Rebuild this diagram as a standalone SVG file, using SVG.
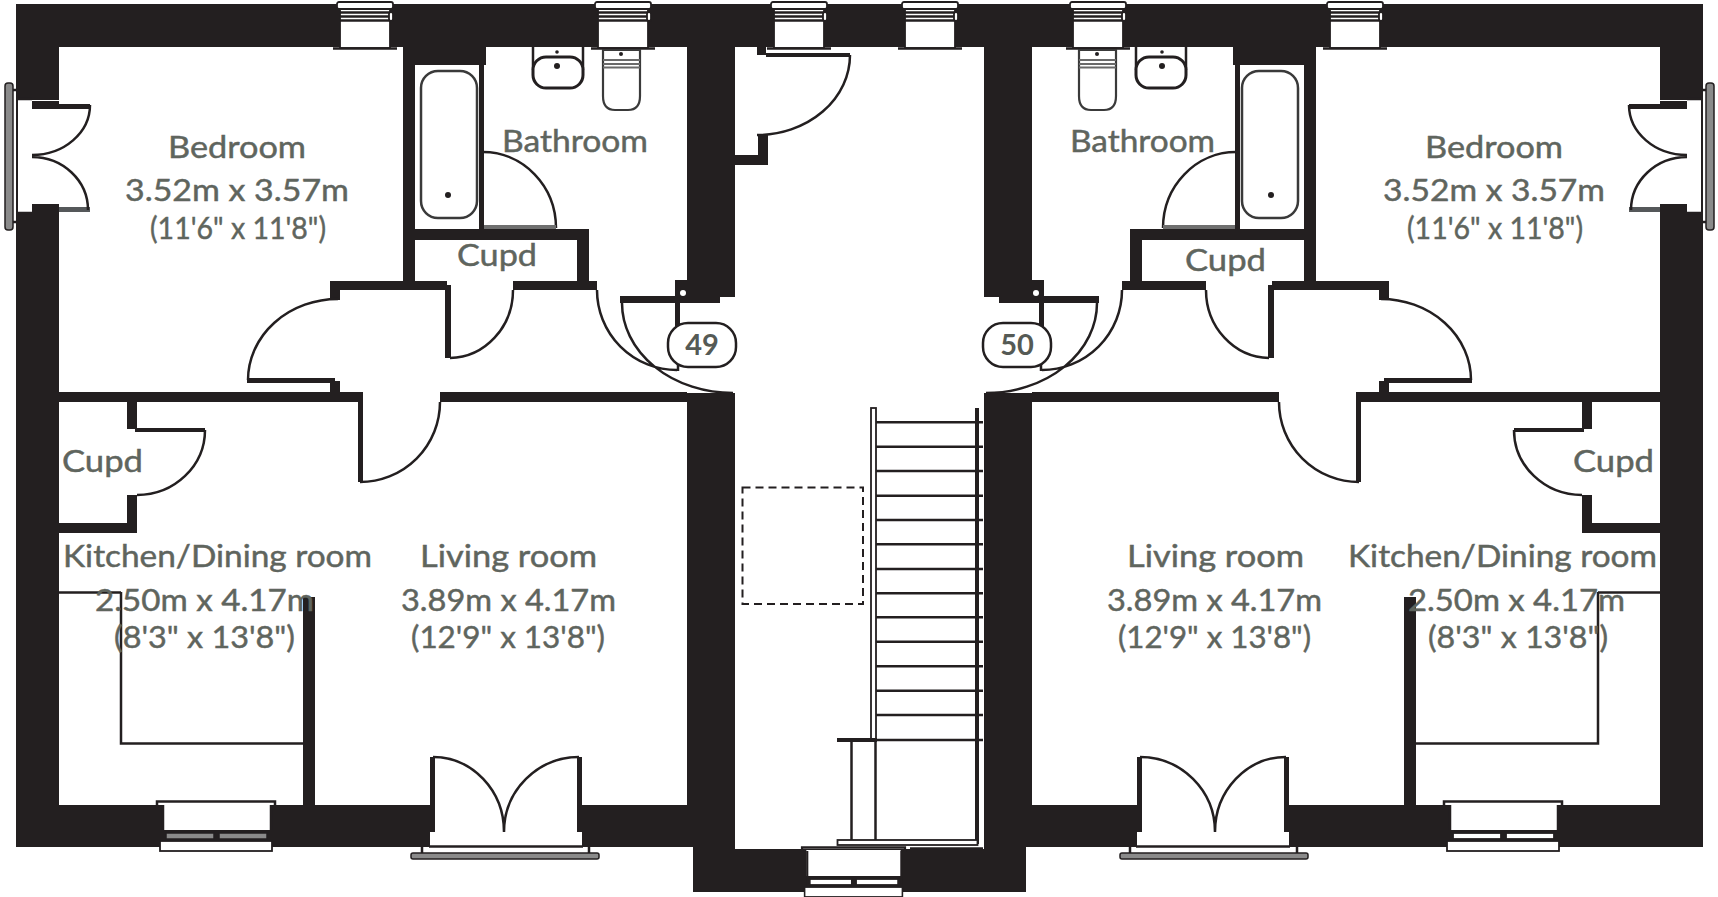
<svg xmlns="http://www.w3.org/2000/svg" xmlns:xlink="http://www.w3.org/1999/xlink" width="1718" height="897" viewBox="0 0 1718 897">
<style>
.k{fill:#231f20}
.w{fill:#fff}
.s{fill:#fff;stroke:#231f20;stroke-width:1.8}
.l{fill:none;stroke:#231f20;stroke-width:2.500}
.g{fill:#8a8a8a;stroke:#231f20;stroke-width:1.5}
.t{font-family:"Lato","Liberation Sans",sans-serif;font-size:30px;fill:#5f655e;stroke:#5f655e;stroke-width:.45}
.n{font-family:"Lato","Liberation Sans",sans-serif;font-size:29px;font-weight:700;fill:#555a55}
</style>
<defs>
<g id="winT">
<rect class="s" x="3" y="8" width="50" height="40"/>
<path class="l" stroke-width="2" d="M3 12.500H53M3 16.500H53M3 20.500H53"/>
<rect class="s" x="0" y="2" width="56" height="7" rx="2"/>
<rect class="s" x="52" y="12" width="4" height="9" rx="2"/>
<path class="l" d="M-4 48.500H60"/>
</g>
<g id="winB">
<rect class="w" x="5" y="4" width="108" height="26"/>
<path class="l" d="M0 6V1.500H118V6M6 5V30M114 5V30"/>
<rect class="k" x="5" y="30" width="110" height="11"/>
<rect class="s" x="9" y="33" width="48" height="6"/>
<rect class="s" x="62" y="33" width="48" height="6"/>
<rect class="s" x="3" y="41" width="112" height="10"/>
</g>
<g id="winG">
<rect class="w" x="5" y="4" width="108" height="26"/>
<path class="l" d="M0 6V1.500H118V6M6 5V30M114 5V30"/>
<rect class="k" x="5" y="30" width="110" height="11"/>
<rect class="g" x="9" y="33" width="48" height="6"/>
<rect class="g" x="62" y="33" width="48" height="6"/>
<rect class="s" x="3" y="41" width="112" height="10"/>
</g>
<g id="half">
<!-- outer walls -->
<rect class="k" x="16" y="4" width="844" height="43"/>
<rect class="k" x="16" y="4" width="43" height="843"/>
<rect class="k" x="16" y="805" width="719" height="42"/>
<rect class="k" x="693" y="805" width="42" height="87"/>
<rect class="k" x="693" y="849" width="167" height="43"/>
<!-- hall walls -->
<rect class="k" x="687" y="47" width="48" height="250"/>
<rect class="k" x="687" y="393" width="48" height="412"/>
<!-- bathroom block -->
<rect class="k" x="403" y="47" width="83" height="18"/>
<rect class="k" x="403" y="47" width="12" height="243"/>
<rect class="k" x="479" y="65" width="5" height="165"/>
<rect class="k" x="403" y="229" width="186" height="11"/>
<rect class="k" x="577" y="229" width="12" height="61"/>
<rect class="k" x="330" y="281" width="117" height="9"/>
<rect class="k" x="513" y="281" width="84" height="9"/>
<rect class="k" x="330" y="281" width="10" height="19"/>
<rect class="k" x="445" y="285" width="6" height="73"/>
<!-- mid partition -->
<rect class="k" x="59" y="392" width="300" height="10"/>
<rect class="k" x="440" y="392" width="247" height="10"/>
<rect class="k" x="330" y="381" width="10" height="12"/>
<rect class="k" x="358" y="392" width="5" height="90"/>
<rect class="k" x="247" y="378" width="88" height="5"/>
<!-- kitchen cupboard -->
<rect class="k" x="127" y="402" width="10" height="27"/>
<rect class="k" x="135" y="428" width="70" height="4"/>
<rect class="k" x="127" y="495" width="10" height="38"/>
<rect class="k" x="59" y="523" width="78" height="10"/>
<path class="l" d="M205 430A68 65 0 0 1 137 495"/>
<!-- kitchen partition and counter -->
<rect class="k" x="303" y="597" width="12" height="208"/>
<path class="l" d="M59 592.500H121M121 592V743.500H303"/>
<!-- door arcs -->
<path class="l" d="M338 299A90 81 0 0 0 248 380"/>
<path class="l" d="M450 358A64 68 0 0 0 513 290"/>
<path class="l" d="M360 482A80 80 0 0 0 440 402"/>
<!-- bedroom french doors -->
<rect class="w" x="18" y="100" width="41" height="112"/>
<rect class="k" x="32" y="101" width="27" height="8"/>
<rect class="k" x="32" y="204" width="27" height="8"/>
<rect class="k" x="59" y="104" width="31" height="5"/>
<rect x="59" y="207" width="31" height="5" fill="#55585a"/>
<path class="l" d="M90 105A58 50 0 0 1 32 155M32 157A56 53 0 0 1 88 210"/>
<path class="l" d="M18 99H32M18 213H32"/>
<rect class="g" x="5" y="83" width="8" height="147" rx="3"/>
<path class="l" d="M13 90H16M13 222H16"/>
<!-- living french doors -->
<rect class="w" x="435" y="760" width="142" height="72"/>
<rect class="w" x="430" y="832" width="152" height="15"/>
<rect class="k" x="430" y="757" width="5" height="74"/>
<rect class="k" x="577" y="757" width="5" height="74"/>
<path class="l" d="M433 757A71 75 0 0 1 504 832M579 757A75 75 0 0 0 504 832"/>
<path class="l" d="M429 846.500H583"/>
<rect class="g" x="411" y="853" width="188" height="6" rx="2"/>
<path class="l" d="M422 847V853M589 847V853"/>
<!-- bathroom fittings -->
<path class="l" d="M483 152A73 76 0 0 1 556 228"/>
<rect x="484" y="225" width="72" height="4" fill="#6f6f6f"/>
<rect x="421" y="71" width="56" height="147" rx="17" fill="none" stroke="#3a3a3a" stroke-width="2.500"/>
<circle class="k" cx="448" cy="195" r="3"/>
<path class="l" d="M533 47V70M583 47V70"/>
<rect x="533" y="57" width="50" height="31" rx="13" fill="#fff" stroke="#231f20" stroke-width="3"/>
<circle class="k" cx="557" cy="66" r="3"/>
<circle class="k" cx="557" cy="52" r="1.800"/>
<!-- front door -->
<rect class="k" x="620" y="296" width="100" height="7"/>
<rect class="k" x="675" y="280" width="14" height="20"/>
<rect class="k" x="675" y="298" width="5" height="30"/>
<circle class="w" cx="683" cy="293" r="3"/>
<path class="l" d="M597 290A80 80 0 0 0 677 370M622 303A111 90 0 0 0 733 393"/>
<path class="l" d="M678 362V371"/>
</g>
</defs>
<rect width="1718" height="897" fill="#fff"/>
<g id="plan-left"><use xlink:href="#half" href="#half"/></g>
<g id="plan-right"><use xlink:href="#half" href="#half" transform="matrix(-1 0 0 1 1719 0)"/></g>
<g id="hall">
<rect class="w" x="735" y="47" width="248" height="802"/>
<!-- entry door -->
<rect class="k" x="735" y="155" width="33" height="10"/>
<rect class="k" x="758" y="135" width="10" height="30"/>
<rect class="k" x="757" y="47" width="9" height="8"/>
<rect class="k" x="766" y="53" width="84" height="4"/>
<path class="l" d="M850 55A93 80 0 0 1 757 135"/>
<!-- dashed hatch -->
<rect x="742.500" y="487.500" width="120.500" height="116.500" fill="none" stroke="#231f20" stroke-width="2" stroke-dasharray="8 5"/>
<!-- stairs -->
<path class="l" d="M876 422.300H983M876 446.700H983M876 471H983M876 495.700H983M876 520H983M876 544.300H983M876 569H983M876 593.300H983M876 617.300H983M876 641.700H983M876 666.300H983M876 690.700H983M876 715H983M876 740H983"/>
<rect class="s" x="871" y="408" width="5" height="332"/>
<rect class="k" x="975" y="408" width="4" height="436"/>
<rect class="k" x="837" y="738" width="40" height="4"/>
<path class="l" d="M851.500 741V840M875.500 741V840"/>
<rect class="s" x="837.500" y="840" width="140" height="5"/>
<path class="l" d="M910 848.500H983"/>
</g>
<g id="windows">
<use xlink:href="#winT" href="#winT" x="337"/>
<use xlink:href="#winT" href="#winT" x="595"/>
<use xlink:href="#winT" href="#winT" x="771"/>
<use xlink:href="#winT" href="#winT" x="902"/>
<use xlink:href="#winT" href="#winT" x="1070"/>
<use xlink:href="#winT" href="#winT" x="1327"/>
<use xlink:href="#winG" href="#winG" x="157" y="800"/>
<use xlink:href="#winB" href="#winB" x="1444" y="800"/>
<g transform="translate(802 846) scale(.873 1)"><use xlink:href="#winB" href="#winB"/></g>
</g>
<g id="toilets">
<path d="M603 50H640V96Q640 110 628 110H615Q603 110 603 96Z" fill="#fff" stroke="#3a3a3a" stroke-width="2.200"/>
<path d="M603 60H640M603 64H640M603 67.500H640" fill="none" stroke="#6a6a6a" stroke-width="2"/>
<circle class="k" cx="621" cy="54" r="2"/>
<path d="M1079 50H1116V96Q1116 110 1104 110H1091Q1079 110 1079 96Z" fill="#fff" stroke="#3a3a3a" stroke-width="2.200"/>
<path d="M1079 60H1116M1079 64H1116M1079 67.500H1116" fill="none" stroke="#6a6a6a" stroke-width="2"/>
<circle class="k" cx="1097" cy="54" r="2"/>
</g>
<g id="badge-49">
<rect x="668" y="323" width="68" height="44" rx="20" fill="#fff" stroke="#231f20" stroke-width="2.500"/>
<text class="n" x="702" y="355" text-anchor="middle">49</text>
</g>
<g id="badge-50">
<rect x="983" y="323" width="68" height="44" rx="20" fill="#fff" stroke="#231f20" stroke-width="2.500"/>
<text class="n" x="1017" y="355" text-anchor="middle">50</text>
</g>
<g id="labels">
<text class="t" x="168" y="158" textLength="138" lengthAdjust="spacingAndGlyphs">Bedroom</text>
<text class="t" x="125" y="201" textLength="224" lengthAdjust="spacingAndGlyphs">3.52m x 3.57m</text>
<text class="t" x="150" y="239" textLength="176" lengthAdjust="spacingAndGlyphs">(11'6" x 11'8")</text>
<text class="t" x="502" y="152" textLength="146" lengthAdjust="spacingAndGlyphs">Bathroom</text>
<text class="t" x="457" y="266" textLength="80" lengthAdjust="spacingAndGlyphs">Cupd</text>
<text class="t" x="62" y="472" textLength="81" lengthAdjust="spacingAndGlyphs">Cupd</text>
<text class="t" x="63" y="567" textLength="309" lengthAdjust="spacingAndGlyphs">Kitchen/Dining room</text>
<text class="t" x="95" y="611" textLength="219" lengthAdjust="spacingAndGlyphs">2.50m x 4.17m</text>
<text class="t" x="114" y="648" textLength="181" lengthAdjust="spacingAndGlyphs">(8'3" x 13'8")</text>
<text class="t" x="420" y="567" textLength="177" lengthAdjust="spacingAndGlyphs">Living room</text>
<text class="t" x="401" y="611" textLength="215" lengthAdjust="spacingAndGlyphs">3.89m x 4.17m</text>
<text class="t" x="411" y="648" textLength="194" lengthAdjust="spacingAndGlyphs">(12'9" x 13'8")</text>
<text class="t" x="1070" y="152" textLength="145" lengthAdjust="spacingAndGlyphs">Bathroom</text>
<text class="t" x="1185" y="271" textLength="81" lengthAdjust="spacingAndGlyphs">Cupd</text>
<text class="t" x="1425" y="158" textLength="138" lengthAdjust="spacingAndGlyphs">Bedroom</text>
<text class="t" x="1383" y="201" textLength="222" lengthAdjust="spacingAndGlyphs">3.52m x 3.57m</text>
<text class="t" x="1407" y="239" textLength="176" lengthAdjust="spacingAndGlyphs">(11'6" x 11'8")</text>
<text class="t" x="1573" y="472" textLength="81" lengthAdjust="spacingAndGlyphs">Cupd</text>
<text class="t" x="1348" y="567" textLength="309" lengthAdjust="spacingAndGlyphs">Kitchen/Dining room</text>
<text class="t" x="1408" y="611" textLength="217" lengthAdjust="spacingAndGlyphs">2.50m x 4.17m</text>
<text class="t" x="1428" y="648" textLength="180" lengthAdjust="spacingAndGlyphs">(8'3" x 13'8")</text>
<text class="t" x="1127" y="567" textLength="177" lengthAdjust="spacingAndGlyphs">Living room</text>
<text class="t" x="1107" y="611" textLength="215" lengthAdjust="spacingAndGlyphs">3.89m x 4.17m</text>
<text class="t" x="1118" y="648" textLength="193" lengthAdjust="spacingAndGlyphs">(12'9" x 13'8")</text>
</g>
</svg>
